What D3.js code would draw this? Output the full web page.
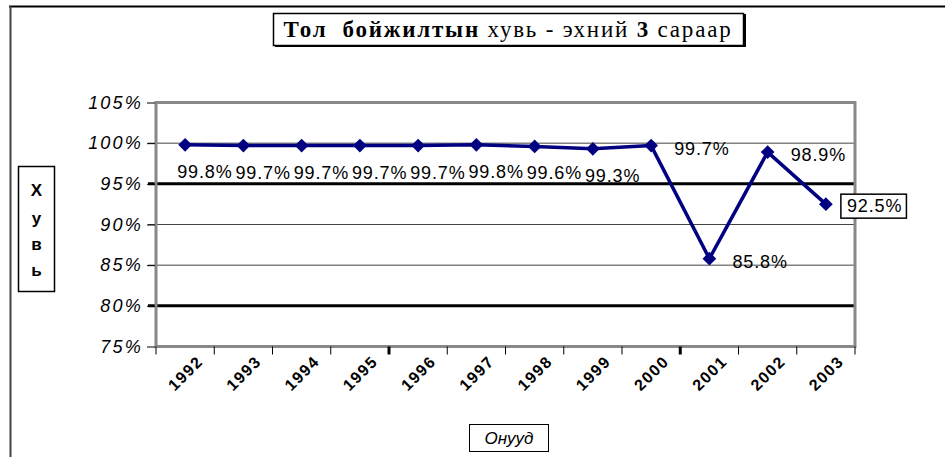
<!DOCTYPE html>
<html>
<head>
<meta charset="utf-8">
<script src="https://cdn.jsdelivr.net/npm/d3@7"></script>
<style>
  body { margin: 0; background: #fff; }
  svg { display: block; font-family: "Liberation Sans", Arial, sans-serif; }
</style>
</head>
<body>
<script>
// chart data
var years = ["1992", "1993", "1994", "1995", "1996", "1997", "1998", "1999", "2000", "2001", "2002", "2003"];
var values = [0.998, 0.997, 0.997, 0.997, 0.997, 0.998, 0.996, 0.993, 0.997, 0.858, 0.989, 0.925];
var yTicks = [0.75, 0.80, 0.85, 0.90, 0.95, 1.00, 1.05];
var boldGrid = [0.80, 0.95];
var boldXTicks = ["1996", "2001"];

var W = 945, H = 457;
var plot = {left: 156, right: 855, top: 102.5, bottom: 346.5};

var svg = d3.select("body").append("svg")
  .attr("width", W).attr("height", H);

// outer frame (only top + left visible)
svg.append("line").attr("x1", 9).attr("x2", W).attr("y1", 6.5).attr("y2", 6.5)
  .attr("stroke", "#000").attr("stroke-width", 2);
svg.append("line").attr("x1", 10.5).attr("x2", 10.5).attr("y1", 6).attr("y2", H)
  .attr("stroke", "#444").attr("stroke-width", 2);

var x = d3.scaleBand().domain(years).range([plot.left, plot.right]);
var y = d3.scaleLinear().domain([0.75, 1.05]).range([plot.bottom, plot.top]);
var fmt = d3.format(".1%");

// gridlines
svg.append("g").selectAll("line")
  .data(yTicks.filter(function (t) { return t > 0.75 && t < 1.05; }))
  .enter().append("line")
  .attr("x1", plot.left - 8).attr("x2", plot.right)
  .attr("y1", function (d) { return y(d); }).attr("y2", function (d) { return y(d); })
  .attr("stroke", function (d) { return boldGrid.indexOf(d) >= 0 ? "#000" : "#444"; })
  .attr("stroke-width", function (d) { return boldGrid.indexOf(d) >= 0 ? 3 : 1; });

// plot frame
svg.append("rect")
  .attr("x", plot.left).attr("y", plot.top)
  .attr("width", plot.right - plot.left).attr("height", plot.bottom - plot.top)
  .attr("fill", "none").attr("stroke", "#888").attr("stroke-width", 3);

// y axis ticks + labels
var yAxis = d3.axisLeft(y).tickValues(yTicks).tickSize(8)
  .tickFormat(d3.format(".0%"));
var gy = svg.append("g").attr("transform", "translate(" + (plot.left - 1) + ",0)").call(yAxis);
gy.select(".domain").remove();
gy.selectAll(".tick line").attr("stroke", "#000").attr("stroke-width", 1);
gy.selectAll(".tick text")
  .attr("x", -12)
  .style("font-family", "'Liberation Sans', Arial, sans-serif")
  .style("font-size", "18px").style("font-style", "italic")
  .style("letter-spacing", "2.2px").attr("fill", "#000");

// x ticks at band edges
var edges = years.map(function (d) { return x(d); }).concat([plot.right]);
svg.append("g").selectAll("line").data(edges).enter().append("line")
  .attr("x1", function (d) { return d; }).attr("x2", function (d) { return d; })
  .attr("y1", plot.bottom).attr("y2", plot.bottom + 8)
  .attr("stroke", "#000")
  .attr("stroke-width", function (d, i) { return boldXTicks.indexOf(years[i]) >= 0 ? 3 : 1; });

// x labels rotated
svg.append("g").selectAll("text").data(years).enter().append("text")
  .attr("transform", function (d) {
    return "translate(" + (x(d) + x.bandwidth() / 2 + 11) + "," + (plot.bottom + 8) + ") rotate(-45)";
  })
  .attr("text-anchor", "end")
  .attr("dy", "0.7em")
  .style("font-size", "16px").style("font-weight", "bold")
  .style("letter-spacing", "1.5px")
  .text(function (d) { return d; });

// line + markers
var pts = years.map(function (d, i) { return {year: d, v: values[i], i: i}; });
var line = d3.line()
  .x(function (d) { return x(d.year) + x.bandwidth() / 2; })
  .y(function (d) { return y(d.v); });

svg.append("path").datum(pts).attr("d", line)
  .attr("fill", "none").attr("stroke", "#000080").attr("stroke-width", 3.5)
  .attr("stroke-linejoin", "round");

svg.append("g").selectAll("path").data(pts).enter().append("path")
  .attr("d", d3.symbol().type(d3.symbolDiamond2).size(120))
  .attr("transform", function (d) {
    return "translate(" + (x(d.year) + x.bandwidth() / 2) + "," + y(d.v) + ")";
  })
  .attr("fill", "#000080");

// data labels
var labels = svg.append("g").selectAll("g").data(pts).enter().append("g")
  .attr("transform", function (d) {
    var cx = x(d.year) + x.bandwidth() / 2, cy = y(d.v);
    if (d.i < 8) return "translate(" + (cx - 8) + "," + (cy + 33) + ")";
    if (d.i === 11) return "translate(" + (cx + 21) + "," + (cy + 8) + ")";
    return "translate(" + (cx + 23) + "," + (cy + 9) + ")";
  });

labels.append("text")
  .style("font-size", "18px")
  .style("letter-spacing", "0.9px")
  .text(function (d) { return fmt(d.v); });

labels.filter(function (d) { return d.i === 11; }).each(function () {
  var g = d3.select(this), b = g.select("text").node().getBBox();
  g.insert("rect", "text")
    .attr("x", b.x - 6).attr("y", b.y - 2)
    .attr("width", b.width + 10).attr("height", b.height + 4)
    .attr("fill", "#fff").attr("stroke", "#000").attr("stroke-width", 1.5);
});

// title box
var title = svg.append("g");
title.append("rect").attr("x", 273.5).attr("y", 13.5).attr("width", 470).attr("height", 32)
  .attr("fill", "#fff").attr("stroke", "#000").attr("stroke-width", 1.5);
title.append("line").attr("x1", 744.5).attr("x2", 744.5).attr("y1", 14).attr("y2", 47)
  .attr("stroke", "#000").attr("stroke-width", 3);
title.append("line").attr("x1", 275).attr("x2", 746).attr("y1", 46).attr("y2", 46)
  .attr("stroke", "#000").attr("stroke-width", 2);
var tt = title.append("text").attr("x", 508).attr("y", 37).attr("text-anchor", "middle")
  .style("font-family", "'Liberation Serif', 'Times New Roman', serif")
  .style("font-size", "23px").style("letter-spacing", "1.8px")
  .attr("xml:space", "preserve");
tt.append("tspan").style("font-weight", "bold").text("Тол  бойжилтын ");
tt.append("tspan").text("хувь - эхний ");
tt.append("tspan").style("font-weight", "bold").text("3 ");
tt.append("tspan").text("сараар");

// y axis title box
var ytitle = svg.append("g");
ytitle.append("rect").attr("x", 18.5).attr("y", 166.5).attr("width", 36).attr("height", 125)
  .attr("fill", "#fff").attr("stroke", "#000").attr("stroke-width", 1.5);
ytitle.selectAll("text").data(["Х", "у", "в", "ь"]).enter().append("text")
  .attr("x", 36.5)
  .attr("y", function (d, i) { return [196, 224, 250, 276][i]; })
  .attr("text-anchor", "middle")
  .style("font-size", "17px").style("font-weight", "bold")
  .text(function (d) { return d; });

// x axis title box
var xtitle = svg.append("g");
xtitle.append("rect").attr("x", 469.5).attr("y", 424.5).attr("width", 79).attr("height", 27)
  .attr("fill", "#fff").attr("stroke", "#000").attr("stroke-width", 1);
xtitle.append("text").attr("x", 509).attr("y", 444).attr("text-anchor", "middle")
  .style("font-size", "17px").style("font-style", "italic")
  .text("Онууд");
</script>
</body>
</html>
